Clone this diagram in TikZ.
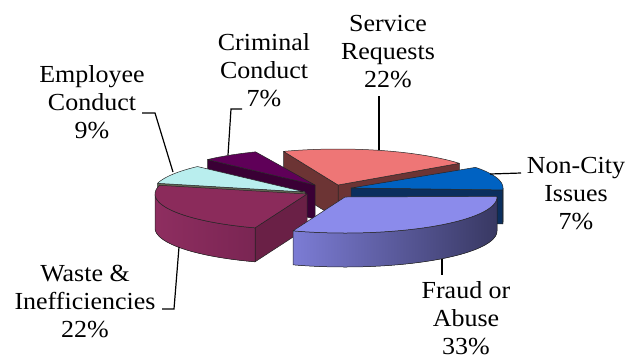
\documentclass[tikz,border=0pt]{standalone}
\usepackage{fontspec}
\setmainfont[FakeStretch=1.06]{Liberation Serif}
\definecolor{servtop}{HTML}{EE7676}
\definecolor{servside}{HTML}{6C3434}
\definecolor{nctop}{HTML}{0062C2}
\definecolor{ncside}{HTML}{0B2F5E}
\definecolor{frtop}{HTML}{8B8BEB}
\definecolor{frL}{HTML}{7C7CD5}
\definecolor{frM}{HTML}{52528F}
\definecolor{frR}{HTML}{383862}
\definecolor{watop}{HTML}{8B2B5B}
\definecolor{waL}{HTML}{8E2E60}
\definecolor{waR}{HTML}{7A2553}
\definecolor{wacut}{HTML}{6A2046}
\definecolor{emtop}{HTML}{B9EEEE}
\definecolor{emcut}{HTML}{636853}
\definecolor{crtop}{HTML}{5F0058}
\definecolor{crcut}{HTML}{3A0035}
\def\RX{152}
\def\RY{36}
\def\H{34}
\newcommand\topface[5]{%
  \filldraw[#5] (#1,#2) -- plot[domain=#3:#4,samples=50] ({#1+\RX*cos(\x)},{#2-\RY*sin(\x)}) -- cycle;}
\newcommand\cutface[4]{%
  \filldraw[#4] (#1,#2) -- ({#1+\RX*cos(#3)},{#2-\RY*sin(#3)}) -- ({#1+\RX*cos(#3)},{#2-\RY*sin(#3)+\H}) -- (#1,#2+\H) -- cycle;}
\newcommand\rimface[5]{%
  \filldraw[#5] plot[domain=#3:#4,samples=50] ({#1+\RX*cos(\x)},{#2-\RY*sin(\x)}) -- plot[domain=#4:#3,samples=50] ({#1+\RX*cos(\x)},{#2-\RY*sin(\x)+\H}) -- cycle;}
\tikzset{
  edge/.style={draw=black!85, line width=0.5pt, line join=round},
  lbl/.style={align=center, anchor=base, font=\fontsize{24.5}{28}\selectfont, inner sep=0pt},
  leader/.style={draw=black, line width=1.2pt},
}
\begin{document}
\begin{tikzpicture}[x=1pt,y=-1pt]
\useasboundingbox (0,0) rectangle (628,360);
% Service Requests
\cutface{338}{185}{37}{edge,fill=servside}
\cutface{338}{185}{111}{edge,fill=servside}
\topface{338}{185}{37}{111}{edge,fill=servtop}
% Criminal Conduct
\cutface{315}{185}{135}{edge,fill=crcut}
\topface{315}{185}{113}{135}{edge,fill=crtop}
% Employee Conduct
\cutface{305}{192}{166}{edge,fill=emcut}
\topface{305}{192}{135}{166}{edge,fill=emtop}
% Non-City Issues
\cutface{351}{188}{-3}{edge,fill=ncside}
\rimface{351}{188}{-3}{0}{edge,fill=ncside}
\topface{351}{188}{-3}{35}{edge,fill=nctop}
% Waste & Inefficiencies
\cutface{307}{194}{250}{edge,fill=wacut}
\rimface{307}{194}{180}{250}{edge,left color=waL,right color=waR}
\topface{307}{194}{166}{250}{edge,fill=watop}
% Fraud or Abuse
\rimface{345}{197}{-110}{0}{edge,left color=frL,middle color=frM,right color=frR}
\topface{345}{197}{-110}{1}{edge,fill=frtop}
% labels (base anchor = baseline of the last line)
\node[lbl] (serv) at (388,87) {Service\\Requests\\22\%};
\node[lbl] (crim) at (264,106) {Criminal\\Conduct\\7\%};
\node[lbl] (empl) at (92,138) {Employee\\Conduct\\9\%};
\node[lbl] (nonc) at (576,229) {Non-City\\Issues\\7\%};
\node[lbl] (wast) at (85,337) {Waste \&\\Inefficiencies\\22\%};
\node[lbl] (frau) at (466,354) {Fraud or\\Abuse\\33\%};
% leader points
\coordinate (s1) at (379,96);  \coordinate (s2) at (379,150);
\coordinate (c0) at (242,109); \coordinate (c1) at (231,109); \coordinate (c2) at (228,155);
\coordinate (e0) at (142,113); \coordinate (e1) at (155,113); \coordinate (e2) at (173,172);
\coordinate (n1) at (490,174); \coordinate (n2) at (521,173);
\coordinate (f1) at (442,259); \coordinate (f2) at (442,275);
\coordinate (w1) at (179,247); \coordinate (w2) at (174,309); \coordinate (w3) at (162,309);
\draw[leader] (s1) -- (s2);
\draw[leader] (c0) -- (c1) -- (c2);
\draw[leader] (e0) -- (e1) -- (e2);
\draw[leader] (n1) -- (n2);
\draw[leader] (f1) -- (f2);
\draw[leader] (w1) -- (w2) -- (w3);
\end{tikzpicture}
\end{document}
